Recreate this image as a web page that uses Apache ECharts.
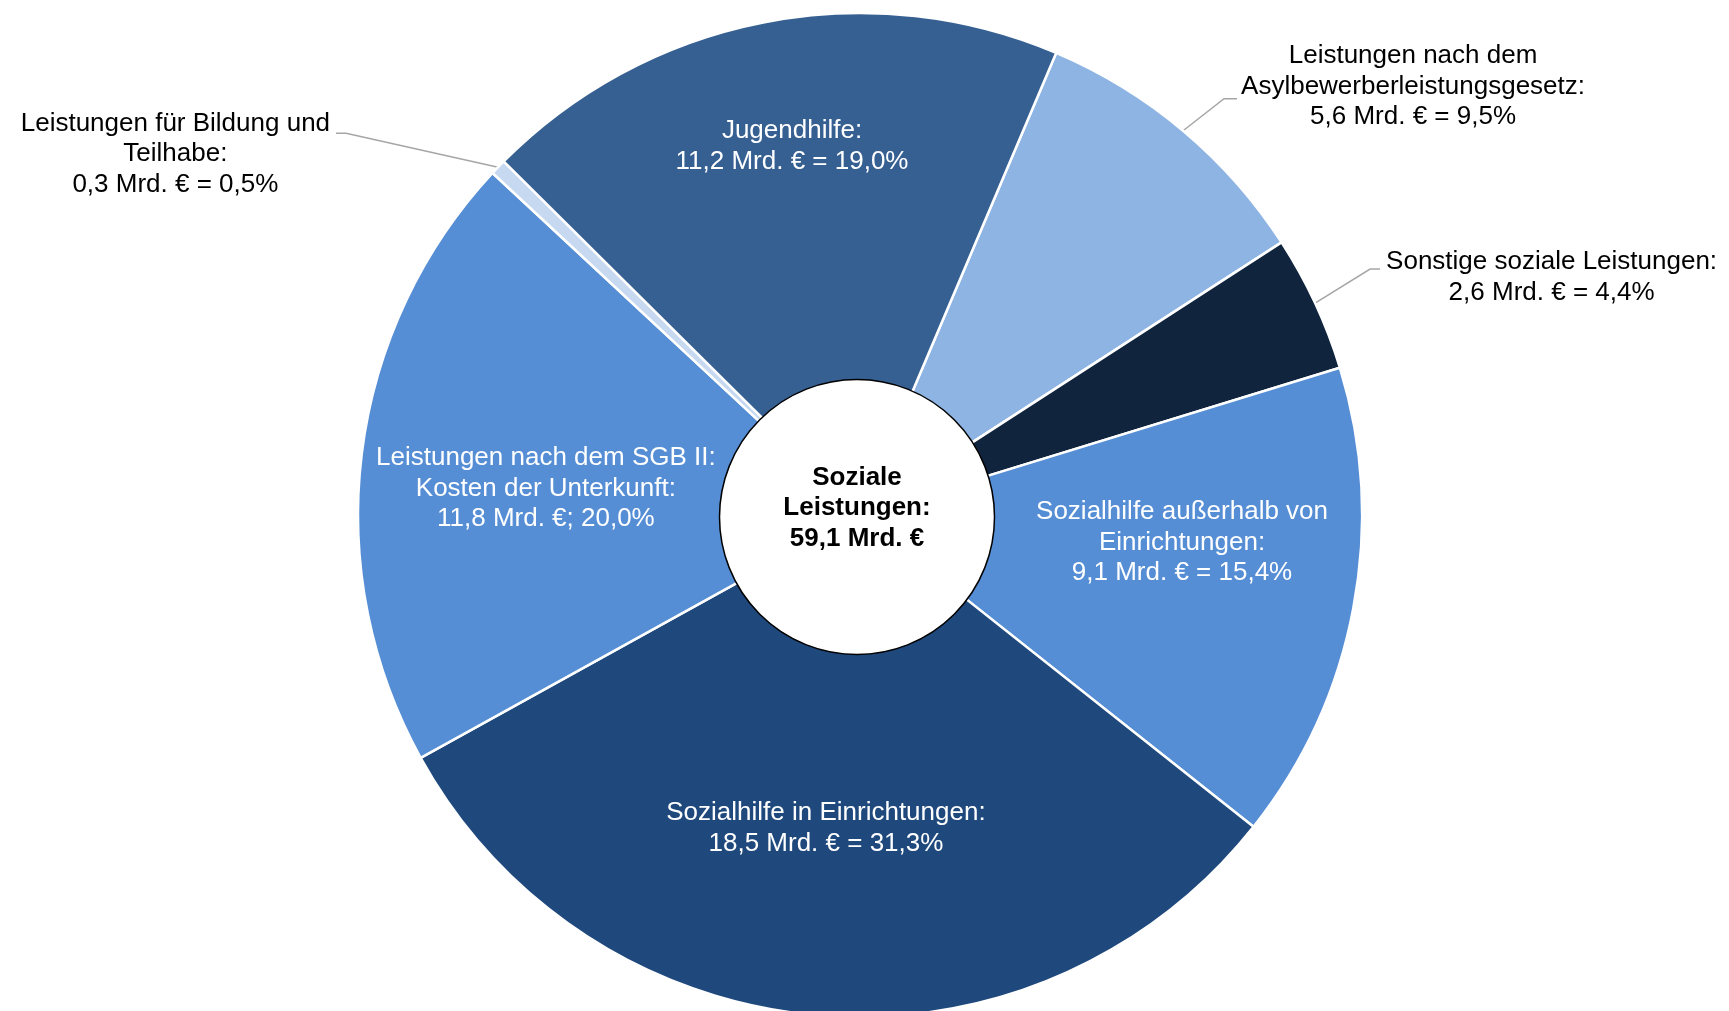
<!DOCTYPE html>
<html>
<head>
<meta charset="utf-8">
<script src="https://cdn.jsdelivr.net/npm/echarts@6/dist/echarts.min.js"></script>
<style>
  html, body { margin: 0; padding: 0; background: #fff; }
  #chart { width: 1729px; height: 1011px; }
</style>
</head>
<body>
<div id="chart"></div>
<script>
// Daten (Mrd. €), im Uhrzeigersinn ab dem Asyl-Segment
const categories = [
  "Leistungen nach dem\nAsylbewerberleistungsgesetz",
  "Sonstige soziale Leistungen",
  "Sozialhilfe außerhalb von\nEinrichtungen",
  "Sozialhilfe in Einrichtungen",
  "Leistungen nach dem SGB II:\nKosten der Unterkunft",
  "Leistungen für Bildung und\nTeilhabe",
  "Jugendhilfe"
];
const values = [5.6, 2.6, 9.1, 18.5, 11.8, 0.3, 11.2];
const separators = [" = ", " = ", " = ", " = ", "; ", " = ", " = "];
const colors = ["#8EB4E3", "#10243E", "#558ED5", "#1F497D", "#558ED5", "#C6D9F1", "#376092"];
const outsideLabels = [0, 1, 5];

const total = values.reduce((a, b) => a + b, 0);
const fmt = (v) => v.toFixed(1).replace(".", ",");

// Verschiebung der inneren Beschriftungen
const insideShift = { 2: [11, -31], 3: [-8, -2], 4: [0, 12], 6: [-7, -58] };
// Führungslinien der äußeren Beschriftungen
const leader = {
  0: { elbow: [41, -32], tail: 13, gap: 4, dy: -12 },
  1: { elbow: [55, -34], tail: 10, gap: 6, dy: 8 },
  5: { elbow: [-152, -34], tail: -10, gap: 6, dy: 21 }
};

const font = { fontFamily: "Liberation Sans, Arial, sans-serif", fontSize: 26, lineHeight: 30.5 };

const pieData = values.map((v, i) => {
  const outside = outsideLabels.indexOf(i) !== -1;
  return {
    name: categories[i],
    value: v,
    itemStyle: { color: colors[i] },
    label: Object.assign({
      show: true,
      position: outside ? "outside" : "inside",
      color: outside ? "#000" : "#fff",
      align: "center",
      formatter: categories[i] + ":\n" + fmt(v) + " Mrd. €" + separators[i] + fmt(v / total * 100) + "%"
    }, font),
    labelLine: { show: outside, length: 20, length2: 10, lineStyle: { color: "#A6A6A6", width: 1.5 } }
  };
});

const chartInstance = echarts.init(document.getElementById("chart"));
chartInstance.setOption({
  animation: false,
  backgroundColor: "#fff",
  series: [
    {
      type: "pie",
      center: [860, 515],
      radius: [125, 502],
      startAngle: 67,
      clockwise: true,
      avoidLabelOverlap: false,
      silent: true,
      itemStyle: { borderColor: "#fff", borderWidth: 2.5 },
      data: pieData,
      labelLayout: function (p) {
        const ins = insideShift[p.dataIndex];
        if (ins) return { dx: ins[0], dy: ins[1] };
        const lead = leader[p.dataIndex];
        if (!lead || !p.labelLinePoints) return {};
        const p0 = p.labelLinePoints[0];
        const elbow = [p0[0] + lead.elbow[0], p0[1] + lead.elbow[1]];
        const end = [elbow[0] + lead.tail, elbow[1]];
        const dir = lead.tail > 0 ? 1 : -1;
        return {
          x: end[0] + dir * (lead.gap + p.labelRect.width / 2),
          y: end[1] + lead.dy,
          align: "center",
          verticalAlign: "middle",
          labelLinePoints: [p0, elbow, end]
        };
      }
    },
    {
      type: "pie",
      center: [857, 517],
      radius: [0, 137.5],
      silent: true,
      z: 3,
      itemStyle: { color: "#fff", borderColor: "#000", borderWidth: 1.5 },
      label: Object.assign({
        show: true,
        position: "center",
        color: "#000",
        fontWeight: "bold",
        formatter: "Soziale\nLeistungen:\n" + fmt(total) + " Mrd. €"
      }, font),
      labelLine: { show: false },
      labelLayout: { dy: -9 },
      data: [{ name: "Soziale Leistungen", value: total }]
    }
  ]
});
</script>
</body>
</html>
